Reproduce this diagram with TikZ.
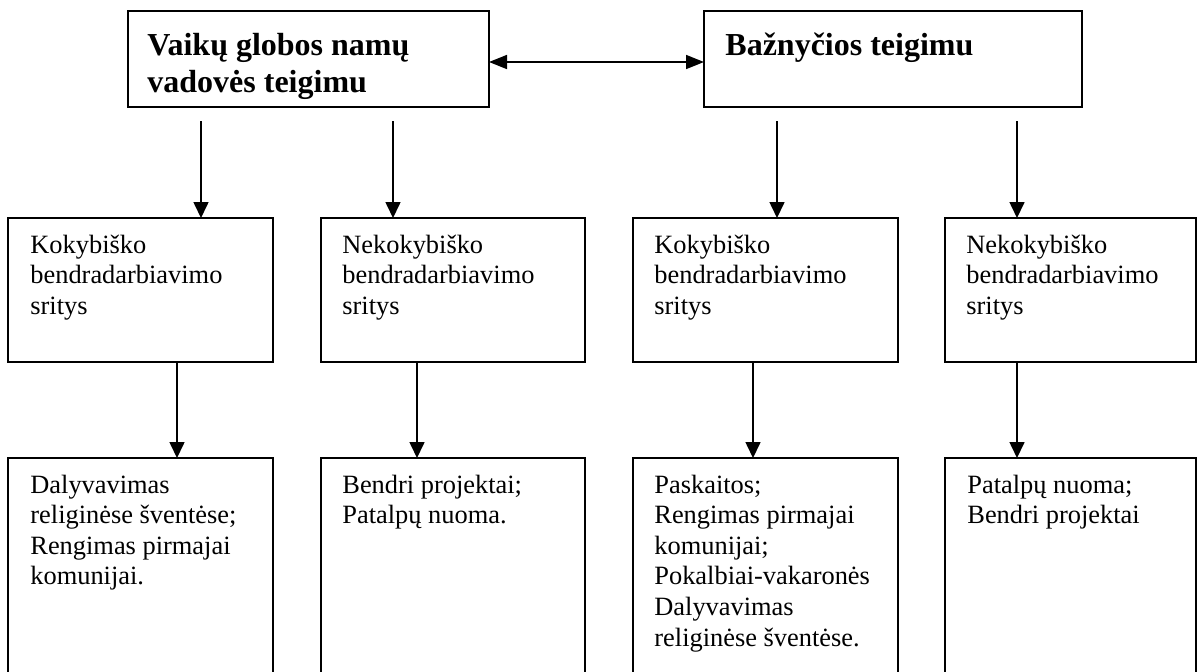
\documentclass[tikz,border=0pt]{standalone}
\usepackage{fontspec}
\setmainfont{Liberation Serif}
\usetikzlibrary{arrows.meta}
\begin{document}
\begin{tikzpicture}[x=0.5pt,y=-0.5pt,
  box/.style={draw, line width=0.8pt, rectangle, anchor=north west, inner sep=0pt, outer sep=0pt},
  head/.style={anchor=base west, inner sep=0pt, align=flush left, text width=175pt, font=\fontsize{16}{18.5}\selectfont\bfseries},
  body/.style={anchor=base west, inner sep=0pt, align=flush left, text width=118pt, font=\fontsize{13.2}{15.3}\selectfont},
  conn/.style={line width=0.8pt, -{Triangle[width=7.5pt,length=8pt]}},
  dconn/.style={line width=0.8pt, {Triangle[width=7pt,length=9pt]}-{Triangle[width=7pt,length=9pt]}},
]
\useasboundingbox (0,0) rectangle (1198,671);
\clip (0,0) rectangle (1198,671);

% top boxes
\node[box, minimum width=180.5pt, minimum height=48pt] (top1) at (128,11) {};
\node[box, minimum width=189pt, minimum height=48pt] (top2) at (704,11) {};

% middle boxes
\node[box, minimum width=132.5pt, minimum height=72pt] (mid1) at (8,218) {};
\node[box, minimum width=132pt, minimum height=72pt] (mid2) at (321,218) {};
\node[box, minimum width=132.5pt, minimum height=72pt] (mid3) at (633,218) {};
\node[box, minimum width=125.5pt, minimum height=72pt] (mid4) at (945,218) {};

% bottom boxes (run past the lower edge)
\node[box, minimum width=132.5pt, minimum height=130pt] (bot1) at (8,458) {};
\node[box, minimum width=132pt, minimum height=130pt] (bot2) at (321,458) {};
\node[box, minimum width=132.5pt, minimum height=130pt] (bot3) at (633,458) {};
\node[box, minimum width=125.5pt, minimum height=130pt] (bot4) at (945,458) {};

% texts
\node[head] (t1) at (147,55) {Vaikų globos namų\\vadovės teigimu};
\node[head] (t2) at (725,55) {Bažnyčios teigimu};

\node[body] (m1t) at (30,253) {Kokybiško\\bendradarbiavimo\\sritys};
\node[body] (m2t) at (342,253) {Nekokybiško\\bendradarbiavimo\\sritys};
\node[body] (m3t) at (654,253) {Kokybiško\\bendradarbiavimo\\sritys};
\node[body] (m4t) at (966,253) {Nekokybiško\\bendradarbiavimo\\sritys};

\node[body] (b1t) at (30,493) {Dalyvavimas\\religinėse šventėse;\\Rengimas pirmajai\\komunijai.};
\node[body] (b2t) at (342,493) {Bendri projektai;\\Patalpų nuoma.};
\node[body] (b3t) at (654,493) {Paskaitos;\\Rengimas pirmajai\\komunijai;\\Pokalbiai-vakaronės\\Dalyvavimas\\religinėse šventėse.};
\node[body] (b4t) at (967,493) {Patalpų nuoma;\\Bendri projektai};

% connectors: top -> middle
\coordinate (s1) at ([xshift=36.5pt,yshift=-7pt]top1.south west);
\coordinate (s2) at ([xshift=132.5pt,yshift=-7pt]top1.south west);
\coordinate (s3) at ([xshift=36.5pt,yshift=-7pt]top2.south west);
\coordinate (s4) at ([xshift=156.5pt,yshift=-7pt]top2.south west);
\draw[conn] (s1) -- (s1 |- mid1.north);
\draw[conn] (s2) -- (s2 |- mid2.north);
\draw[conn] (s3) -- (s3 |- mid3.north);
\draw[conn] (s4) -- (s4 |- mid4.north);

% connectors: middle -> bottom
\coordinate (u1) at ([xshift=84.5pt]mid1.south west);
\coordinate (u2) at ([xshift=48pt]mid2.south west);
\coordinate (u3) at ([xshift=60pt]mid3.south west);
\coordinate (u4) at ([xshift=36pt]mid4.south west);
\draw[conn] (u1) -- (u1 |- bot1.north);
\draw[conn] (u2) -- (u2 |- bot2.north);
\draw[conn] (u3) -- (u3 |- bot3.north);
\draw[conn] (u4) -- (u4 |- bot4.north);

% double arrow between top boxes
\draw[dconn] ([yshift=-1.5pt]top1.east) -- ([yshift=-1.5pt]top2.west);
\end{tikzpicture}
\end{document}
